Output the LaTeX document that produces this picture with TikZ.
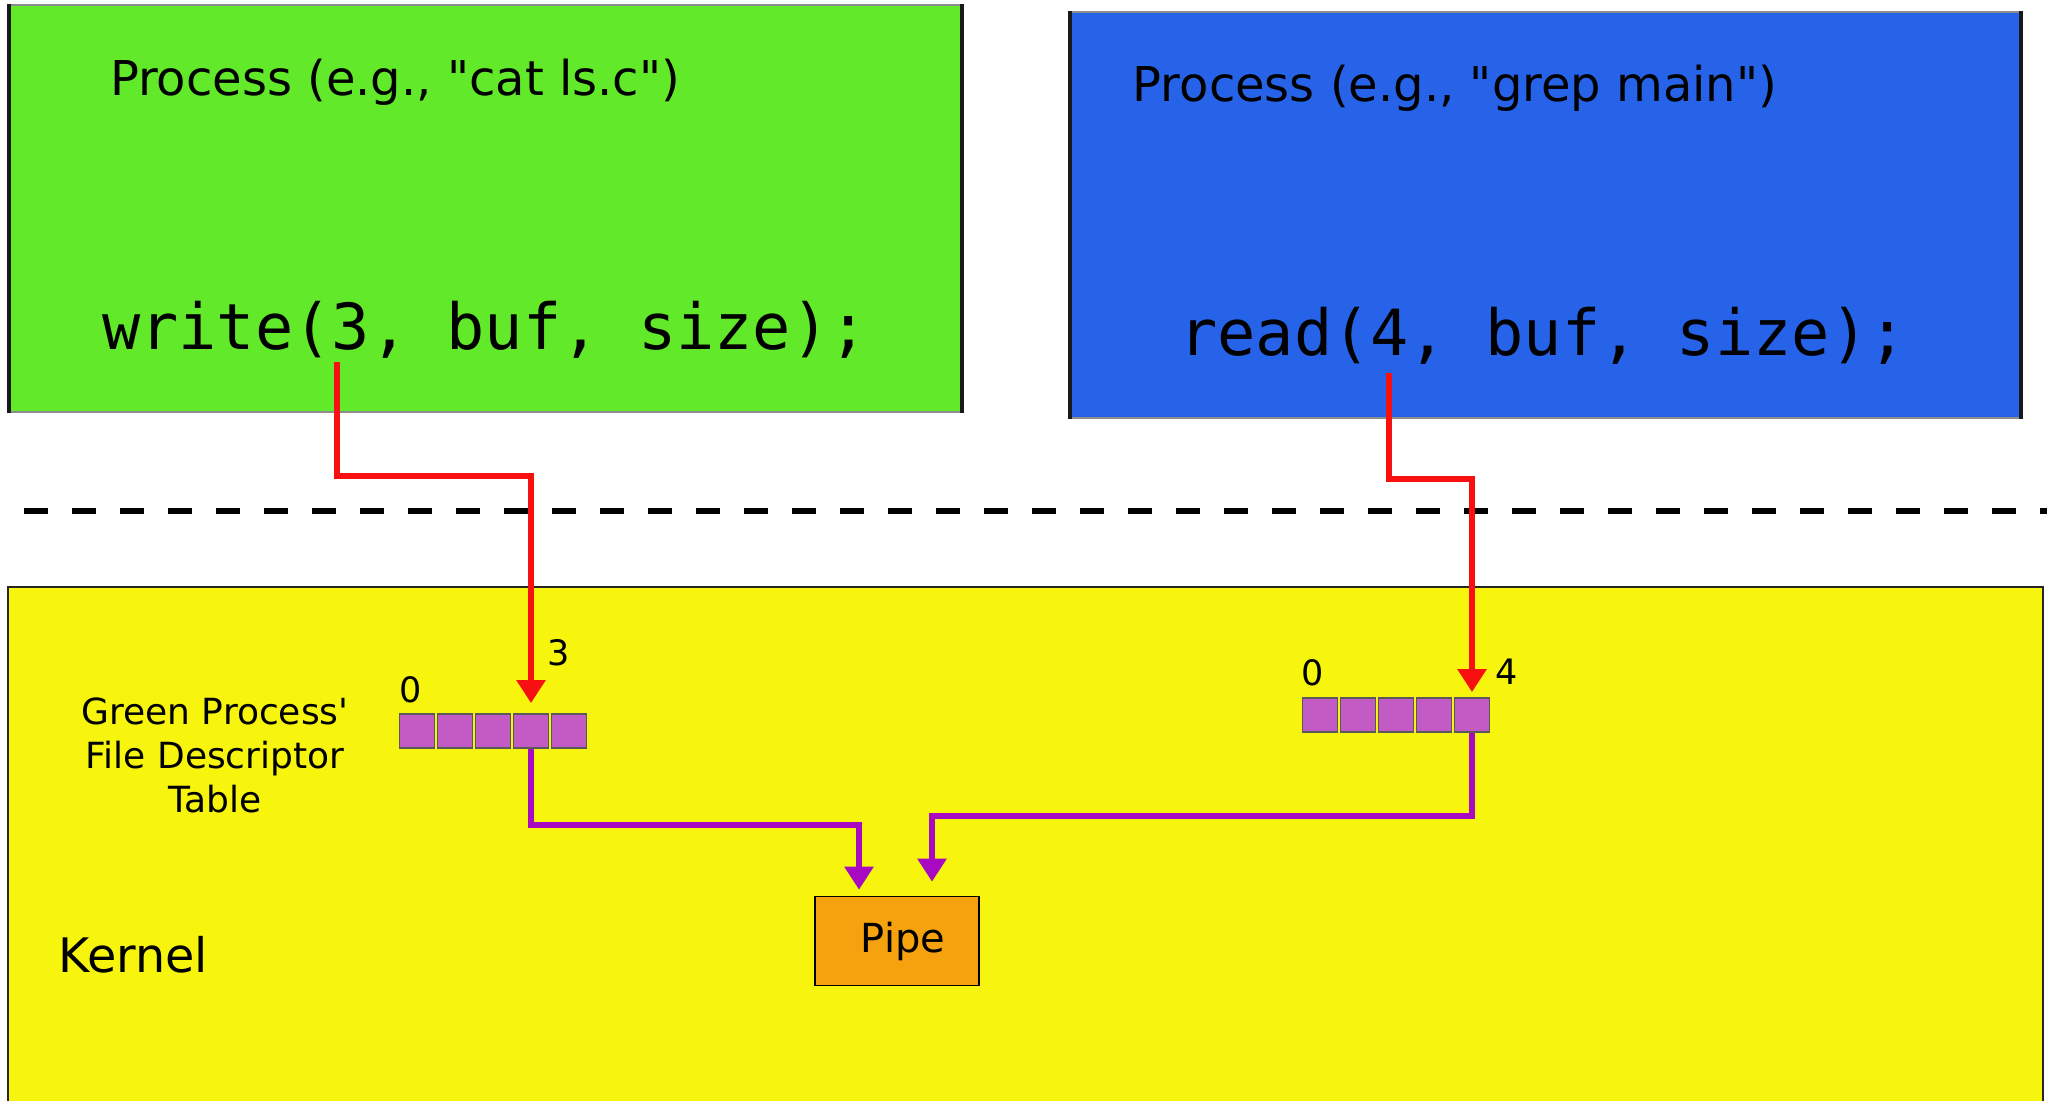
\documentclass[tikz,border=0pt]{standalone}
\usepackage{fontspec}
\usetikzlibrary{arrows.meta,fit}

\newfontfamily\dvsans{DejaVu Sans}
\newfontfamily\dvmono{DejaVu Sans Mono}

\definecolor{procgreen}{HTML}{62EA2A}
\definecolor{procblue}{HTML}{2663E8}
\definecolor{kernelyellow}{HTML}{F7F40E}
\definecolor{pipeorange}{HTML}{F6A20E}
\definecolor{cellviolet}{HTML}{C35BC5}
\definecolor{fdpurple}{HTML}{A80AC2}
\definecolor{callred}{HTML}{F81010}

\begin{document}
\begin{tikzpicture}[
        x=0.5pt, y=-0.5pt,
        procbox/.style={fill=#1, draw=black!45, line width=0.6pt, inner sep=0pt},
        procside/.style={line width=2pt, draw=black!90},
        title/.style={font=\dvsans\fontsize{24}{28}\selectfont, anchor=base},
        code/.style={font=\dvmono\fontsize{31.8}{36}\selectfont, anchor=base},
        fdcell/.style={rectangle, fill=cellviolet, draw=black!65, line width=0.9pt, minimum width=17.5pt, minimum height=17pt, inner sep=0pt},
        fdnum/.style={font=\dvsans\fontsize{17.5}{20}\selectfont, inner sep=0pt},
        callarrow/.style={draw=callred, line width=2.8pt, -{Triangle[length=11.5pt,width=14pt]}},
        fdarrow/.style={draw=fdpurple, line width=2.8pt, -{Triangle[length=11.5pt,width=14pt]}}
    ]

        \fill[white] (0,0) rectangle (2047,1101);
        \useasboundingbox (0,0) rectangle (2047,1101);

        % User space: the two processes
        \node[procbox=procgreen, fit={(10,5) (961,412)}] (green) {};
        \draw[procside] (green.north west) -- (green.south west);
        \draw[procside] (green.north east) -- (green.south east);
        \node[title] (green_title) at (395,96) {Process (e.g., "cat ls.c")};
        \node[code] (green_call) at (485,350) {write(3, buf, size);};
        \coordinate (green_fd) at (337,362);

        \node[procbox=procblue, fit={(1071,12) (2020,418)}] (blue) {};
        \draw[procside] (blue.north west) -- (blue.south west);
        \draw[procside] (blue.north east) -- (blue.south east);
        \node[title] (blue_title) at (1455,102) {Process (e.g., "grep main")};
        \node[code] (blue_call) at (1543,356) {read(4, buf, size);};
        \coordinate (blue_fd) at (1389,373);

        % User/kernel boundary
        \draw[line width=3pt, dash pattern=on 12pt off 12pt, dash phase=12pt] (0,511) -- (2047,511);

        % Kernel
        \node[fill=kernelyellow, draw=black!85, line width=0.8pt, inner sep=0pt, fit={(8,587) (2043,1120)}] (kernel) {};
        \node[font=\dvsans\fontsize{23.8}{28}\selectfont, anchor=base west, inner sep=0pt] (kernel_label) at (58,972) {Kernel};
        \node[font=\dvsans\fontsize{18}{22}\selectfont, align=center] (green_table) at (215,755) {Green Process'\\File Descriptor\\Table};

        % File descriptor tables
        \foreach \i in {0,...,4} {
            \node[fdcell] (gfd\i) at ({417+38*\i},731) {};
            \node[fdcell] (bfd\i) at ({1320+38*\i},715) {};
        }
        \node[fdnum] (gfd_zero) at (411,690) {0};
        \node[fdnum] (gfd_three) at (559,653) {3};
        \node[fdnum] (bfd_zero) at (1313,673) {0};
        \node[fdnum] (bfd_four) at (1507,672) {4};

        % Pipe
        \node[fill=pipeorange, draw=black, line width=0.8pt, minimum width=82pt, minimum height=44.5pt, font=\dvsans\fontsize{20}{22}\selectfont] (pipe) at (897,941) {\hspace{6pt}Pipe};

        % System calls into the tables
        \draw[callarrow, shorten >=5pt] (green_fd) -- ++(0,114) -| (gfd3.north);
        \draw[callarrow, shorten >=2.5pt] (blue_fd) -- ++(0,106) -| (bfd4.north);

        % Table entries to the pipe
        \draw[fdarrow, shorten >=3pt] (gfd3.south) -- ++(0,76) -| ([xshift=-19pt]pipe.north);
        \draw[fdarrow, shorten >=7pt] (bfd4.south) -- ++(0,83) -| ([xshift=17.5pt]pipe.north);

    \end{tikzpicture}
\end{document}
